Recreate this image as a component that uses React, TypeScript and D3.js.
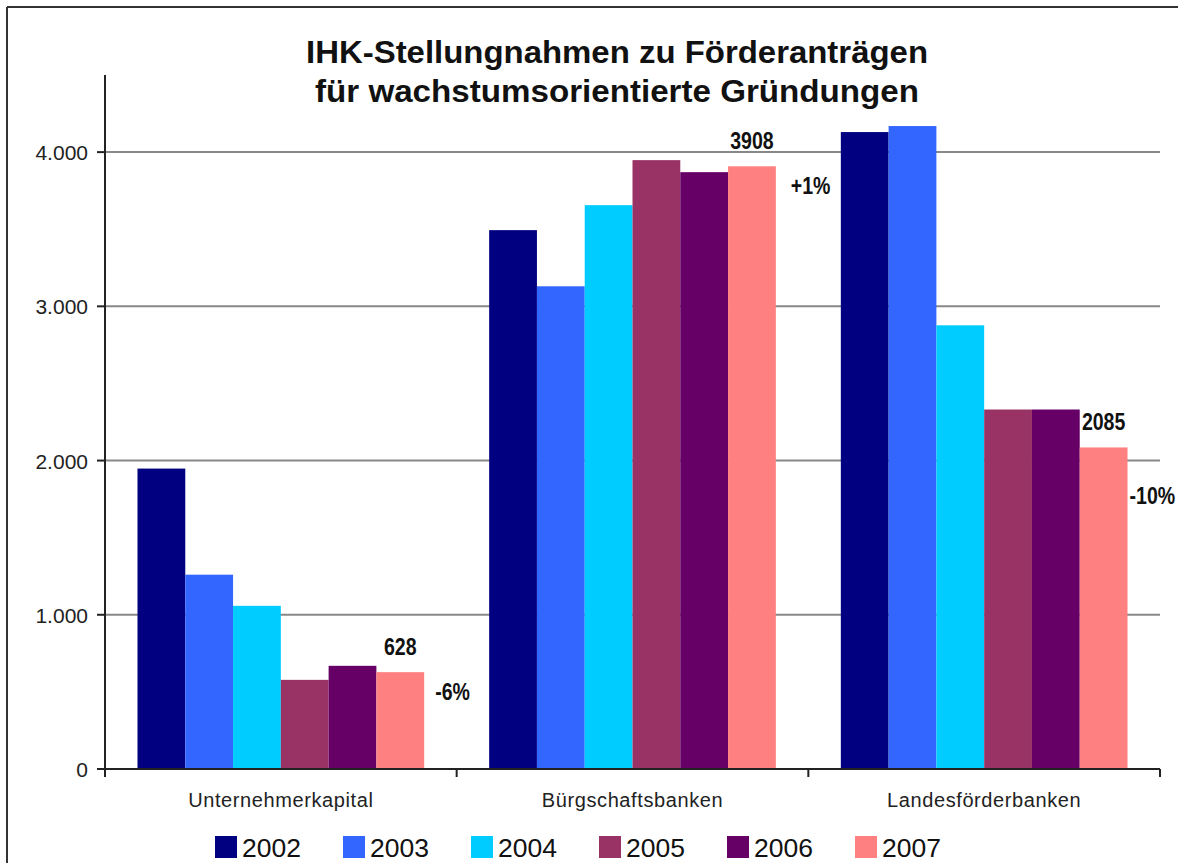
import React from "react";
import * as d3 from "d3";

const categories = ["Unternehmerkapital", "Bürgschaftsbanken", "Landesförderbanken"];
const years = ["2002", "2003", "2004", "2005", "2006", "2007"];
const colors = ["#000080", "#3366FF", "#00CCFF", "#993366", "#660066", "#FF8080"];
const values: number[][] = [
  [1948, 1260, 1058, 578, 669, 628],
  [3494, 3130, 3656, 3948, 3870, 3908],
  [4130, 4169, 2877, 2331, 2331, 2085],
];
const yTicks = [0, 1000, 2000, 3000, 4000];
const valueLabels = ["628", "3908", "2085"];
const changeLabels = ["-6%", "+1%", "-10%"];
const titleLines = ["IHK-Stellungnahmen zu Förderanträgen", "für wachstumsorientierte Gründungen"];

// layout (not data)
const changeDy = [28, 28, 57];
const changeDx = [11, 15, 2];
const W = 1178, H = 863;
const left = 105, right = 1160, top = 75, bottom = 769;

export default function App() {
  const x0 = d3.scaleBand<string>().domain(categories).range([left, right]).padding(0);
  const x1 = d3.scaleBand<string>().domain(years).range([0, x0.bandwidth()]).paddingInner(0).paddingOuter(0.68);
  const y = d3.scaleLinear().domain([0, 4500]).range([bottom, top]);
  const fmt = (v: number) => (v === 0 ? "0" : d3.format(",")(v).replace(/,/g, "."));
  const font = "Liberation Sans, Arial, sans-serif";
  const lastYear = years[years.length - 1];

  return (
    <svg width={W} height={H} style={{ position: "absolute", left: 0, top: 0, background: "#fff" }} fontFamily={font}>
      <rect x={0} y={0} width={W} height={H} fill="#fff" />
      {/* outer frame */}
      <line x1={7} x2={W} y1={7} y2={7} stroke="#333" strokeWidth={2} />
      <line x1={7} x2={7} y1={7} y2={H} stroke="#333" strokeWidth={2} />
      {/* title */}
      {titleLines.map((t, i) => (
        <text key={t} x={617} y={63 + i * 39} textAnchor="middle" fontSize={32} fontWeight="bold" fill="#111"
          textLength={i === 0 ? 622 : 604} lengthAdjust="spacingAndGlyphs">{t}</text>
      ))}
      {/* gridlines */}
      {yTicks.filter((t) => t > 0).map((t) => (
        <line key={t} x1={left} x2={right} y1={y(t)} y2={y(t)} stroke="#888" strokeWidth={2} />
      ))}
      {/* bars */}
      {categories.map((c, ci) => (
        <g key={c} transform={`translate(${x0(c)},0)`}>
          {years.map((yr, yi) => (
            <rect key={yr} x={x1(yr)} y={y(values[ci][yi])} width={x1.bandwidth()} height={bottom - y(values[ci][yi])} fill={colors[yi]} />
          ))}
        </g>
      ))}
      {/* axes */}
      <line x1={left} x2={left} y1={top} y2={bottom} stroke="#222" strokeWidth={2} />
      <line x1={left - 8} x2={right} y1={bottom} y2={bottom} stroke="#222" strokeWidth={2} />
      {yTicks.map((t) => (
        <g key={t}>
          <line x1={left - 8} x2={left} y1={y(t)} y2={y(t)} stroke="#222" strokeWidth={2} />
          <text x={88} y={y(t) + 8} textAnchor="end" fontSize={21} fill="#222">{fmt(t)}</text>
        </g>
      ))}
      {[...categories.map((c) => x0(c)!), right].map((xv, i) => (
        <line key={i} x1={xv} x2={xv} y1={bottom} y2={bottom + 8} stroke="#222" strokeWidth={2} />
      ))}
      {categories.map((c) => (
        <text key={c} x={x0(c)! + x0.bandwidth() / 2} y={807} textAnchor="middle" fontSize={20} letterSpacing={0.6} fill="#222">{c}</text>
      ))}
      {/* annotations */}
      {categories.map((c, ci) => {
        const bx = x0(c)! + x1(lastYear)! + x1.bandwidth() / 2;
        const bRight = x0(c)! + x1(lastYear)! + x1.bandwidth();
        const v = values[ci][5];
        return (
          <g key={c} fontWeight="bold" fontSize={23} fill="#111">
            <text transform={`translate(${bx},${y(v) - 17}) scale(0.85,1)`} textAnchor="middle">{valueLabels[ci]}</text>
            <text transform={`translate(${bRight + changeDx[ci]},${y(v) + changeDy[ci]}) scale(0.85,1)`} textAnchor="start">{changeLabels[ci]}</text>
          </g>
        );
      })}
      {/* legend */}
      {years.map((yr, i) => {
        const lx = 215 + i * 128;
        return (
          <g key={yr}>
            <rect x={lx} y={836} width={22} height={22} fill={colors[i]} />
            <text x={lx + 27} y={857} fontSize={26.5} fill="#111">{yr}</text>
          </g>
        );
      })}
    </svg>
  );
}
